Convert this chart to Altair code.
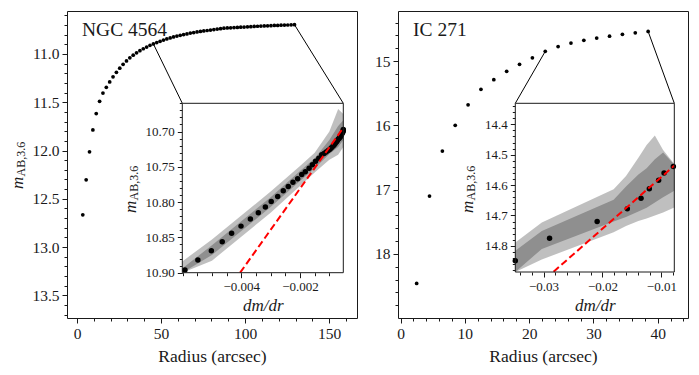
import math
import altair as alt
import pandas as pd

FONT = "Liberation Serif"
INK = "#1a1a1a"

# ---------------- NGC 4564 ----------------
ngc_r = [3.4, 5.4, 7.4, 9.4, 11.4, 13.4, 15.4, 17.4, 19.4, 21.4,
         23.4, 25.4, 27.4, 29.4, 31.4, 33.4, 35.4, 37.4, 39.4, 41.4,
         43.4, 45.4, 47.4, 49.4, 51.4, 53.4, 55.4, 57.4, 59.4, 61.4,
         63.4, 65.4, 67.4, 69.4, 71.4, 73.4, 75.4, 77.4, 79.4, 81.4,
         83.4, 85.4, 87.4, 89.4, 91.4, 93.4, 95.4, 97.4, 99.4, 101.4,
         103.4, 105.4, 107.4, 109.4, 111.4, 113.4, 115.4, 117.4, 119.4, 121.4,
         123.4, 125.4, 127.4, 129.4]
ngc_m = [12.666, 12.304, 12.014, 11.787, 11.618, 11.490, 11.405, 11.345, 11.290, 11.237,
         11.190, 11.147, 11.107, 11.072, 11.040, 11.013, 10.988, 10.966, 10.946, 10.928,
         10.911, 10.896, 10.882, 10.869, 10.856, 10.844, 10.834, 10.824, 10.815, 10.807,
         10.799, 10.792, 10.784, 10.778, 10.772, 10.767, 10.761, 10.757, 10.752, 10.747,
         10.742, 10.738, 10.733, 10.731, 10.729, 10.727, 10.725, 10.723, 10.721, 10.719,
         10.717, 10.715, 10.713, 10.711, 10.710, 10.708, 10.707, 10.705, 10.704, 10.702,
         10.701, 10.700, 10.698, 10.697]
ngc_inset_start = 21
ngc_dmdr = [-0.00592, -0.00548, -0.00502, -0.00465, -0.00433, -0.00401, -0.00369, -0.00342, -0.00318, -0.00298,
            -0.00276, -0.00257, -0.00240, -0.00224, -0.00208, -0.00194, -0.00182, -0.00169, -0.00158, -0.00147,
            -0.00136, -0.00126, -0.00118, -0.00111, -0.00104, -0.00098, -0.00093, -0.00088, -0.00084, -0.00080,
            -0.00076, -0.00073, -0.00070, -0.00067, -0.00064, -0.00062, -0.00060, -0.00058, -0.00056, -0.00055,
            -0.00053, -0.00052, -0.00050]
ngc_band_x = [-0.0062, -0.0050, -0.0040, -0.0030, -0.0020, -0.0015, -0.0010, -0.0007, -0.0005]
ngc_outer_top = [10.884, 10.853, 10.819, 10.785, 10.749, 10.730, 10.700, 10.668, 10.675]
ngc_outer_bot = [10.920, 10.883, 10.849, 10.815, 10.777, 10.758, 10.740, 10.733, 10.722]
ngc_inner_top = [10.894, 10.861, 10.827, 10.793, 10.756, 10.738, 10.712, 10.692, 10.684]
ngc_inner_bot = [10.910, 10.875, 10.841, 10.807, 10.770, 10.752, 10.732, 10.722, 10.712]
ngc_fit_x = [-0.00404, -0.00053]
ngc_fit_m = [10.900, 10.695]

# ---------------- IC 271 ----------------
ic_r = [2.5, 4.5, 6.5, 8.5, 10.5, 12.5, 14.5, 16.5, 18.5, 20.5,
        22.5, 24.5, 26.5, 28.5, 30.5, 32.5, 34.5, 36.5, 38.5]
ic_m = [18.46, 17.10, 16.40, 16.00, 15.68, 15.44, 15.29, 15.16, 15.05, 14.95,
        14.849, 14.775, 14.720, 14.678, 14.643, 14.612, 14.584, 14.560, 14.539]
ic_inset_start = 10
ic_dmdr = [-0.03493, -0.02898, -0.02090, -0.01578, -0.01345, -0.01204, -0.01046, -0.00954, -0.00796]
ic_band_x = [-0.0348, -0.0303, -0.0181, -0.0160, -0.0139, -0.0125, -0.0111, -0.0097, -0.0078]
ic_outer_top = [14.789, 14.723, 14.614, 14.570, 14.510, 14.468, 14.437, 14.485, 14.531]
ic_outer_bot = [14.920, 14.845, 14.755, 14.735, 14.718, 14.710, 14.700, 14.690, 14.674]
ic_inner_top = [14.816, 14.751, 14.648, 14.605, 14.565, 14.545, 14.515, 14.493, 14.533]
ic_inner_bot = [14.890, 14.810, 14.720, 14.705, 14.687, 14.675, 14.657, 14.640, 14.619]
ic_fit_x = [-0.0283, -0.0078]
ic_fit_m = [14.885, 14.536]

# ---------------- text ----------------
galaxy_names = ["NGC 4564", "IC 271"]
x_title = "Radius (arcsec)"
inset_x_title = "dm/dr"
ylab_m = "m"
ylab_sub = "AB,3.6"

ngc_xticks = [0, 50, 100, 150]
ngc_yticks = [11.0, 11.5, 12.0, 12.5, 13.0, 13.5]
ngc_ixticks = [-0.004, -0.002]
ngc_iyticks = [10.70, 10.75, 10.80, 10.85, 10.90]
ic_xticks = [0, 10, 20, 30, 40]
ic_yticks = [15, 16, 17, 18, 19]
ic_ixticks = [-0.03, -0.02, -0.01]
ic_iyticks = [14.4, 14.5, 14.6, 14.7, 14.8]

# ---------------- layout ----------------
PW, PH = 290, 307
LABEL_FS = 15.5
TITLE_FS = 17.5
INSET_LABEL_FS = 13


def minor(dom, step, majors):
    lo, hi = min(dom), max(dom)
    n0 = math.ceil(lo / step - 1e-6)
    n1 = math.floor(hi / step + 1e-6)
    vals = [round(k * step, 6) for k in range(n0, n1 + 1)]
    return [v for v in vals if all(abs(v - M) > step * 0.01 for M in majors)
            and lo <= v <= hi]


def ytitle_layers(xb, y0, fs_m=17, fs_s=12):
    t1 = alt.Chart(pd.DataFrame({"t": [ylab_m]})).mark_text(
        angle=270, align="left", baseline="alphabetic", font=FONT,
        fontStyle="italic", fontSize=fs_m, color=INK
    ).encode(text="t:N", x=alt.value(xb), y=alt.value(y0))
    t2 = alt.Chart(pd.DataFrame({"t": [ylab_sub]})).mark_text(
        angle=270, align="left", baseline="alphabetic", font=FONT,
        fontSize=fs_s, color=INK
    ).encode(text="t:N", x=alt.value(xb + 2.5), y=alt.value(y0 - 0.74 * fs_m))
    return [t1, t2]


def major_axis(orient, values, fmt, title=None, **kw):
    args = dict(orient=orient, values=values, format=fmt, domain=False, grid=False,
                tickSize=5, tickColor=INK, tickWidth=1, labelFlush=False, labelPadding=3,
                labelFont=FONT, labelFontSize=LABEL_FS, labelColor=INK,
                titleFont=FONT, titleFontSize=TITLE_FS, titleColor=INK,
                titleFontWeight="normal")
    args.update(kw)
    if title is None:
        return alt.Axis(title=None, **args)
    return alt.Axis(title=title, **args)


def minor_axis(orient, values, **kw):
    return alt.Axis(orient=orient, values=values, labels=False, title=None, domain=False,
                    grid=False, tickSize=3, tickColor=INK, tickWidth=1, **kw)


def panel(name, r, m, i0, dmdr, bx, ot, ob, it, ib, fx, fm,
          xdom, ydom, xt, yt, xfmt, yfmt, xstep, ystep,
          ins, ixdom, iydom, ixt, iyt, ixfmt, iyfmt, ixstep, iystep,
          main_title_pos, inset_title_pos):
    x0, x1, y0, y1 = ins
    main_df = pd.DataFrame({"r": r, "m": m})

    def inv(px, py):
        return (xdom[0] + px / PW * (xdom[1] - xdom[0]),
                ydom[0] + py / PH * (ydom[1] - ydom[0]))

    c0 = inv(x0, y0)
    c1 = inv(x1, y0)
    conn_df = pd.DataFrame({"r": [r[i0], r[-1]], "m": [m[i0], m[-1]],
                            "r2": [c0[0], c1[0]], "m2": [c0[1], c1[1]]})
    xs = alt.Scale(domain=xdom, nice=False, zero=False)
    ys = alt.Scale(domain=ydom, reverse=True, nice=False, zero=False)

    pts = alt.Chart(main_df).mark_circle(size=14, color="black", opacity=1).encode(
        x=alt.X("r:Q", scale=xs, axis=major_axis("bottom", xt, xfmt, x_title, titlePadding=6)),
        y=alt.Y("m:Q", scale=ys, axis=major_axis("left", yt, yfmt)),
    )
    mins = alt.Chart(main_df).mark_circle(opacity=0).encode(
        x=alt.X("r:Q", scale=xs, axis=minor_axis("bottom", minor(xdom, xstep, xt))),
        y=alt.Y("m:Q", scale=ys, axis=minor_axis("left", minor(ydom, ystep, yt))),
    )
    conn = alt.Chart(conn_df).mark_rule(color="black", strokeWidth=1).encode(
        x=alt.X("r:Q", scale=xs, axis=None), y=alt.Y("m:Q", scale=ys, axis=None),
        x2="r2:Q", y2="m2:Q")
    lab = alt.Chart(pd.DataFrame({"t": [name]})).mark_text(
        align="left", baseline="alphabetic", font=FONT, fontSize=19.5, color=INK
    ).encode(text="t:N", x=alt.value(15), y=alt.value(25))
    layers = [conn, pts, mins, lab]
    if main_title_pos is not None:
        layers += ytitle_layers(*main_title_pos)
    layers += ytitle_layers(*inset_title_pos)
    main = alt.layer(*layers).resolve_axis(x="independent", y="independent")

    ixs = alt.Scale(domain=ixdom, range=[x0, x1], nice=False, zero=False, clamp=True)
    iys = alt.Scale(domain=iydom, range=[y0, y1], nice=False, zero=False, clamp=True)
    box_df = pd.DataFrame({"a": [ixdom[0]], "b": [ixdom[1]], "c": [iydom[0]], "e": [iydom[1]]})
    bg = alt.Chart(box_df).mark_rect(color="white").encode(
        x=alt.X("a:Q", scale=ixs, axis=None), x2="b:Q",
        y=alt.Y("c:Q", scale=iys, axis=None), y2="e:Q")
    frame = alt.Chart(box_df).mark_rect(fill="white", fillOpacity=0, stroke=INK, strokeWidth=1).encode(
        x=alt.X("a:Q", scale=ixs, axis=None), x2="b:Q",
        y=alt.Y("c:Q", scale=iys, axis=None), y2="e:Q")
    band_df = pd.DataFrame({"x": bx, "ot": ot, "ob": ob, "it": it, "ib": ib})
    outer = alt.Chart(band_df).mark_area(color="black", opacity=0.25).encode(
        x=alt.X("x:Q", scale=ixs, axis=None),
        y=alt.Y("ot:Q", scale=iys, axis=None), y2="ob:Q")
    inner = alt.Chart(band_df).mark_area(color="black", opacity=0.25).encode(
        x=alt.X("x:Q", scale=ixs, axis=None),
        y=alt.Y("it:Q", scale=iys, axis=None), y2="ib:Q")
    ins_df = pd.DataFrame({"d": dmdr, "m": m[i0:]})
    ipts = alt.Chart(ins_df).mark_circle(size=30, color="black", opacity=1).encode(
        x=alt.X("d:Q", scale=ixs, axis=major_axis(
            "bottom", ixt, ixfmt, inset_x_title, offset=-(PH - y1), labelFontSize=INSET_LABEL_FS,
            titleFontStyle="italic", titleFontSize=17, titlePadding=4)),
        y=alt.Y("m:Q", scale=iys, axis=major_axis("left", iyt, iyfmt, offset=-x0,
                                                   labelFontSize=INSET_LABEL_FS)),
    )
    imins = alt.Chart(ins_df).mark_circle(opacity=0).encode(
        x=alt.X("d:Q", scale=ixs, axis=minor_axis("bottom", minor(ixdom, ixstep, ixt), offset=-(PH - y1))),
        y=alt.Y("m:Q", scale=iys, axis=minor_axis("left", minor(iydom, iystep, iyt), offset=-x0)),
    )
    fit_df = pd.DataFrame({"x": fx, "m": fm})
    fit = alt.Chart(fit_df).mark_line(color="red", strokeDash=[7, 3.5], strokeWidth=2).encode(
        x=alt.X("x:Q", scale=ixs, axis=None), y=alt.Y("m:Q", scale=iys, axis=None))
    inset = alt.layer(bg, outer, inner, ipts, fit, imins, frame).resolve_axis(
        x="independent", y="independent")

    return alt.layer(main, inset).resolve_scale(
        x="independent", y="independent").resolve_axis(
        x="independent", y="independent").properties(width=PW, height=PH)


left = panel(galaxy_names[0], ngc_r, ngc_m, ngc_inset_start, ngc_dmdr,
             ngc_band_x, ngc_outer_top, ngc_outer_bot, ngc_inner_top, ngc_inner_bot,
             ngc_fit_x, ngc_fit_m,
             [-6.0, 166.6], [10.555, 13.735], ngc_xticks, ngc_yticks, "d", ".1f", 10, 0.1,
             (115.3, 276.3, 92.3, 261.7), [-0.00601, -0.000525], [10.66, 10.90],
             ngc_ixticks, ngc_iyticks, ".3f", ".2f", 0.0005, 0.01,
             (-44.5, 178), (68.5, 202))

right = panel(galaxy_names[1], ic_r, ic_m, ic_inset_start, ic_dmdr,
              ic_band_x, ic_outer_top, ic_outer_bot, ic_inner_top, ic_inner_bot,
              ic_fit_x, ic_fit_m,
              [-0.4, 44.7], [14.221, 18.998], ic_xticks, ic_yticks, "d", "d", 2, 0.2,
              (117.3, 276.3, 92.3, 261.0), [-0.0348, -0.0078], [14.331, 14.886],
              ic_ixticks, ic_iyticks, ".2f", ".1f", 0.002, 0.02,
              None, (74.8, 202))

chart = alt.hconcat(left, right, spacing=16).properties(
    padding={"left": 0, "top": 2, "right": 0, "bottom": 0}
).configure(font=FONT).configure_view(stroke=INK, strokeWidth=1).configure_axis(
    labelFont=FONT, titleFont=FONT, labelColor=INK, titleColor=INK,
    tickColor=INK, tickWidth=1, labelFontSize=LABEL_FS, titleFontSize=TITLE_FS,
    titleFontWeight="normal", domainColor=INK
).configure_text(font=FONT)

chart.save("out.html", embed_options={"renderer": "svg", "actions": False})
